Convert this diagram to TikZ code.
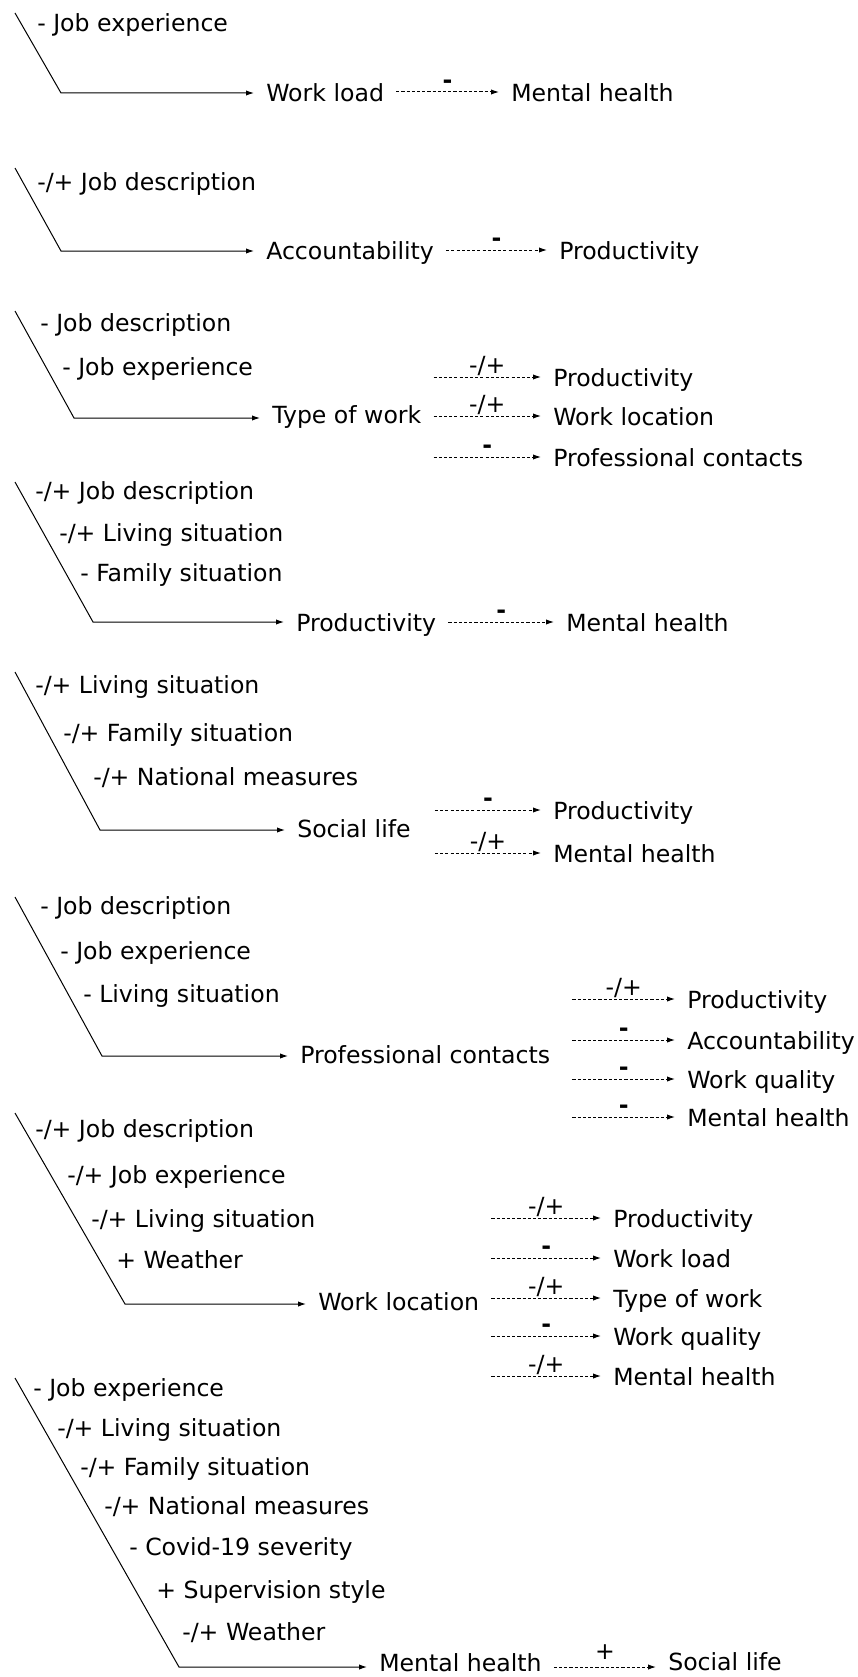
\documentclass[tikz,border=0pt]{standalone}
\usepackage{fontspec}
\setmainfont{DejaVu Sans}
\usetikzlibrary{arrows.meta,calc}

\tikzset{
  cause/.style={anchor=west,inner sep=0pt,text height=15pt,text depth=1.1pt},
  var/.style={anchor=west,inner xsep=9pt,inner ysep=0pt,text height=15pt,text depth=1.1pt},
  link/.style={line width=0.75pt,-{Latex[length=6pt,width=4pt]}},
  effect/.style={link,dash pattern=on 2.3pt off 1.6pt},
  sign/.style={midway,anchor=base,yshift=2.8pt,inner sep=0pt},
}

\begin{document}
\begin{tikzpicture}[x=0.75pt,y=-0.75pt,font=\fontsize{17.7}{21}\selectfont]
	\useasboundingbox (0,0) rectangle (857,1677);
	% 1: work load
	\coordinate (t1) at (15,13);
	\coordinate (k1) at (61,93);
	\foreach \x/\y/\t [count=\i] in {37/22/- Job experience}
		\node[cause] (c1-\i) at (\x,\y) {\t};
	\node[var] (s1) at (254,92) {Work load};
	\node[var] (e1) at (499,92) {Mental health};
	\draw[link] (t1) -- (k1) -- (k1 -| s1.west);
	\draw[effect] (s1.east) -- (e1.west) node[sign] {\textbf{-}};
	% 2: accountability
	\coordinate (t2) at (15,168);
	\coordinate (k2) at (61,251);
	\foreach \x/\y/\t [count=\i] in {37/181/{-/+ Job description}}
		\node[cause] (c2-\i) at (\x,\y) {\t};
	\node[var] (s2) at (254,250) {Accountability};
	\node[var] (e2) at (547,250) {Productivity};
	\draw[link] (t2) -- (k2) -- (k2 -| s2.west);
	\draw[effect] (s2.east) -- (e2.west) node[sign] {\textbf{-}};
	% 3: type of work
	\coordinate (t3) at (15,311);
	\coordinate (k3) at (74,418);
	\foreach \x/\y/\t [count=\i] in {40/322/- Job description, 62/366/- Job experience}
		\node[cause] (c3-\i) at (\x,\y) {\t};
	\node[var] (s3) at (260,414) {Type of work};
	\draw[link] (t3) -- (k3) -- (k3 -| s3.west);
	\foreach \y/\t/\s [count=\i] in {377/Productivity/{-/+}, 416/Work location/{-/+}, 457/Professional contacts/\textbf{-}}{
		\node[var] (e3-\i) at (541,\y) {\t};
		\draw[effect] (s3.east |- e3-\i.west) -- (e3-\i.west) node[sign] {\s};
	}
	% 4: productivity
	\coordinate (t4) at (15,482);
	\coordinate (k4) at (93,622);
	\foreach \x/\y/\t [count=\i] in {35/490/{-/+ Job description}, 59/532/{-/+ Living situation}, 80/572/- Family situation}
		\node[cause] (c4-\i) at (\x,\y) {\t};
	\node[var] (s4) at (284,622) {Productivity};
	\node[var] (e4) at (554,622) {Mental health};
	\draw[link] (t4) -- (k4) -- (k4 -| s4.west);
	\draw[effect] (s4.east) -- (e4.west) node[sign] {\textbf{-}};
	% 5: social life
	\coordinate (t5) at (15,672);
	\coordinate (k5) at (100,830);
	\foreach \x/\y/\t [count=\i] in {35/684/{-/+ Living situation}, 63/732/{-/+ Family situation}, 93/776/{-/+ National measures}}
		\node[cause] (c5-\i) at (\x,\y) {\t};
	\node[var] (s5) at (285,828) {Social life};
	\draw[link] (t5) -- (k5) -- (k5 -| s5.west);
	\foreach \y/\t/\s [count=\i] in {810/Productivity/\textbf{-}, 853/Mental health/{-/+}}{
		\node[var] (e5-\i) at (541,\y) {\t};
		\draw[effect] ($(s5.east |- e5-\i.west)+(12,0)$) -- (e5-\i.west) node[sign] {\s};
	}
	% 6: professional contacts
	\coordinate (t6) at (15,897);
	\coordinate (k6) at (102,1056);
	\foreach \x/\y/\t [count=\i] in {40/905/- Job description, 60/950/- Job experience, 83/993/- Living situation}
		\node[cause] (c6-\i) at (\x,\y) {\t};
	\node[var] (s6) at (288,1054) {Professional contacts};
	\draw[link] (t6) -- (k6) -- (k6 -| s6.west);
	\foreach \y/\t/\s [count=\i] in {999/Productivity/{-/+}, 1040/Accountability/\textbf{-}, 1079/Work quality/\textbf{-}, 1117/Mental health/\textbf{-}}{
		\node[var] (e6-\i) at (675,\y) {\t};
		\draw[effect] ($(s6.east |- e6-\i.west)+(10,0)$) -- (e6-\i.west) node[sign] {\s};
	}
	% 7: work location
	\coordinate (t7) at (15,1113);
	\coordinate (k7) at (125,1304);
	\foreach \x/\y/\t [count=\i] in {35/1128/{-/+ Job description}, 67/1174/{-/+ Job experience}, 91/1218/{-/+ Living situation}, 116/1259/+ Weather}
		\node[cause] (c7-\i) at (\x,\y) {\t};
	\node[var] (s7) at (306,1301) {Work location};
	\draw[link] (t7) -- (k7) -- (k7 -| s7.west);
	\foreach \y/\t/\s [count=\i] in {1218/Productivity/{-/+}, 1258/Work load/\textbf{-}, 1298/Type of work/{-/+}, 1336/Work quality/\textbf{-}, 1376/Mental health/{-/+}}{
		\node[var] (e7-\i) at (601,\y) {\t};
		\draw[effect] (s7.east |- e7-\i.west) -- (e7-\i.west) node[sign] {\s};
	}
	% 8: mental health
	\coordinate (t8) at (15,1378);
	\coordinate (k8) at (179,1667);
	\foreach \x/\y/\t [count=\i] in {33/1387/- Job experience, 57/1427/{-/+ Living situation}, 80/1466/{-/+ Family situation}, 104/1505/{-/+ National measures}, 129/1546/- Covid-19 severity, 156/1589/+ Supervision style, 182/1631/{-/+ Weather}}
		\node[cause] (c8-\i) at (\x,\y) {\t};
	\node[var] (s8) at (367,1662) {Mental health};
	\node[var] (e8) at (656,1661) {Social life};
	\draw[link] (t8) -- (k8) -- (k8 -| s8.west);
	\draw[effect] (k8 -| s8.east) -- (k8 -| e8.west) node[sign,yshift=2.5pt] {+};
\end{tikzpicture}
\end{document}
